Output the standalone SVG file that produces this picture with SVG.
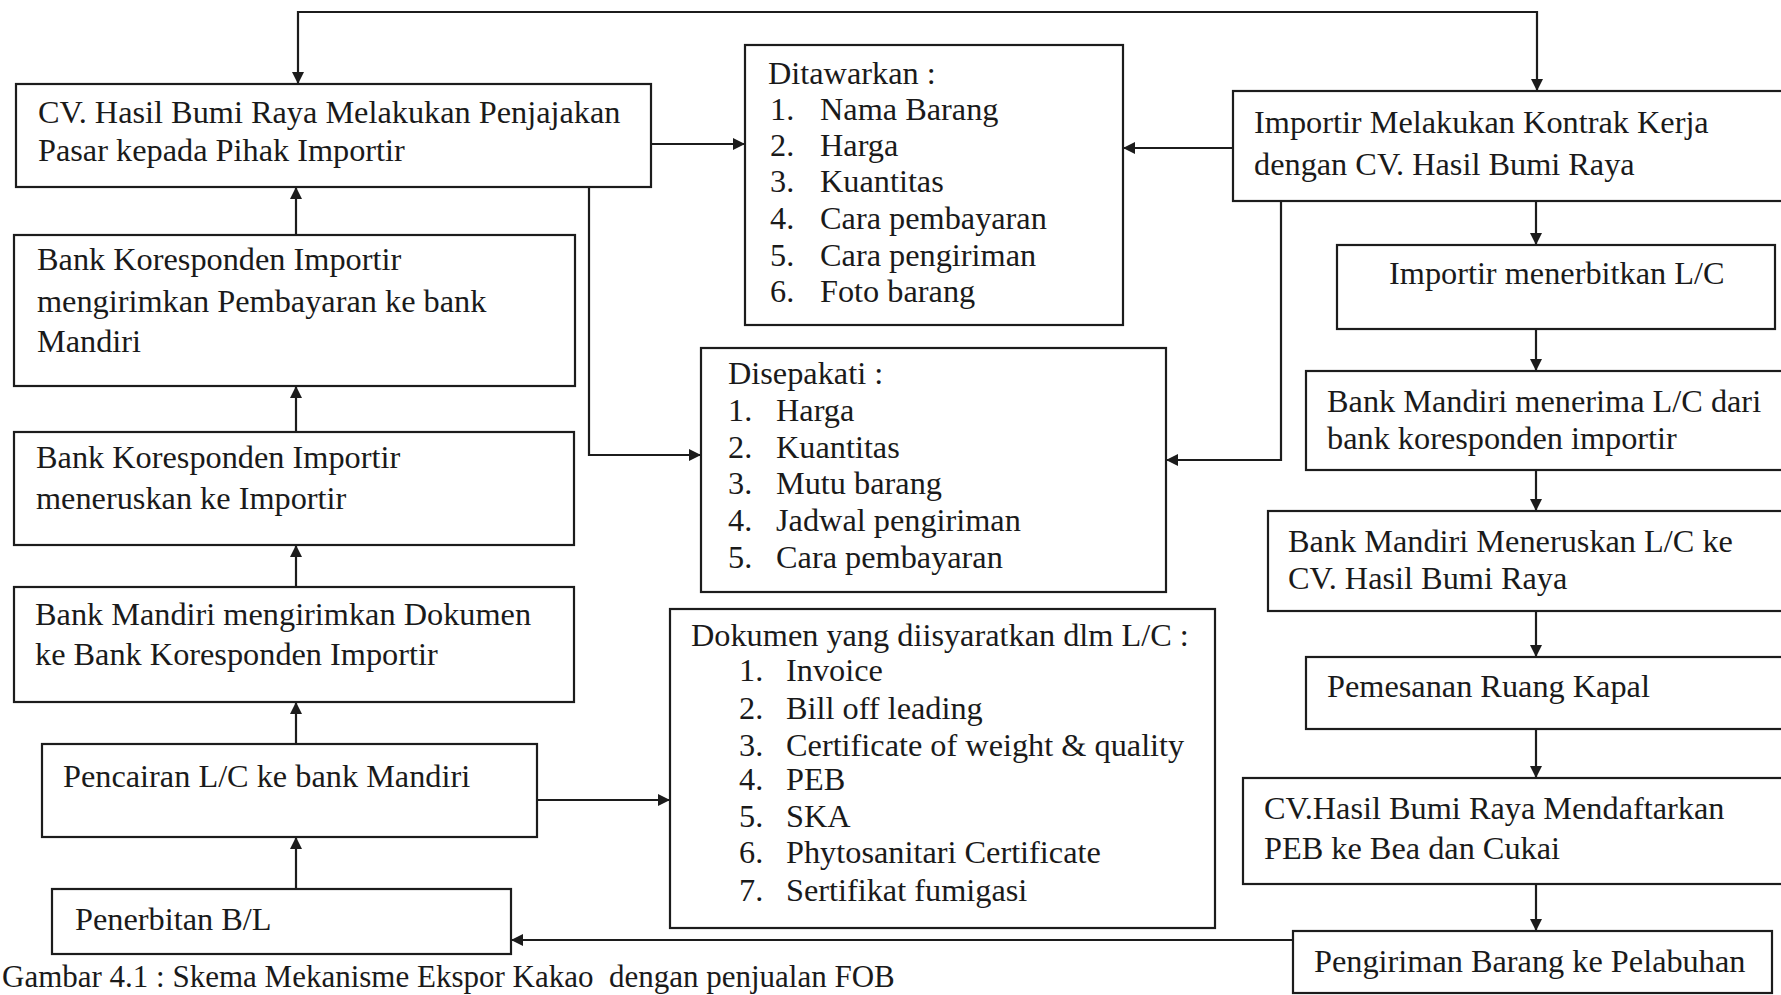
<svg xmlns="http://www.w3.org/2000/svg" width="1781" height="995" viewBox="0 0 1781 995">
<style>
.box{fill:#fff;stroke:#1c1c1c;stroke-width:2.2}
.t{font-family:"Liberation Serif","Times New Roman",serif;font-size:32.3px;fill:#1a1a1a}
.c{fill:none;stroke:#1c1c1c;stroke-width:2.2}
</style>
<defs>
<marker id="ah" viewBox="0 0 12 12" refX="12" refY="6" markerWidth="12" markerHeight="12" markerUnits="userSpaceOnUse" orient="auto-start-reverse">
<path d="M0,0 L12,6 L0,12 Z" fill="#1c1c1c"/>
</marker>
</defs>
<rect width="1781" height="995" fill="#fff"/>

<g id="connectors">
<path class="c" d="M298,84 V12 H1537 V91" marker-start="url(#ah)" marker-end="url(#ah)"/>
<path class="c" d="M651,144 H745" marker-end="url(#ah)"/>
<path class="c" d="M1233,148 H1123" marker-end="url(#ah)"/>
<path class="c" d="M589,187 V455 H701" marker-end="url(#ah)"/>
<path class="c" d="M1281,201 V460 H1166" marker-end="url(#ah)"/>
<path class="c" d="M537,800 H670" marker-end="url(#ah)"/>
<path class="c" d="M1293,940 H511" marker-end="url(#ah)"/>
<path class="c" d="M296,235 V187" marker-end="url(#ah)"/>
<path class="c" d="M296,432 V386" marker-end="url(#ah)"/>
<path class="c" d="M296,587 V545" marker-end="url(#ah)"/>
<path class="c" d="M296,744 V702" marker-end="url(#ah)"/>
<path class="c" d="M296,889 V837" marker-end="url(#ah)"/>
<path class="c" d="M1536,201 V245" marker-end="url(#ah)"/>
<path class="c" d="M1536,329 V371" marker-end="url(#ah)"/>
<path class="c" d="M1536,470 V511" marker-end="url(#ah)"/>
<path class="c" d="M1536,611 V657" marker-end="url(#ah)"/>
<path class="c" d="M1536,729 V778" marker-end="url(#ah)"/>
<path class="c" d="M1536,884 V931" marker-end="url(#ah)"/>
</g>

<g id="nodeA">
<rect class="box" x="16" y="84" width="635" height="103"/>
<text class="t" x="38" y="123">CV. Hasil Bumi Raya Melakukan Penjajakan</text>
<text class="t" x="38" y="161">Pasar kepada Pihak Importir</text>
</g>
<g id="nodeB">
<rect class="box" x="14" y="235" width="561" height="151"/>
<text class="t" x="37" y="270">Bank Koresponden Importir</text>
<text class="t" x="37" y="312">mengirimkan Pembayaran ke bank</text>
<text class="t" x="37" y="352">Mandiri</text>
</g>
<g id="nodeC">
<rect class="box" x="14" y="432" width="560" height="113"/>
<text class="t" x="36" y="468">Bank Koresponden Importir</text>
<text class="t" x="36" y="509">meneruskan ke Importir</text>
</g>
<g id="nodeD">
<rect class="box" x="14" y="587" width="560" height="115"/>
<text class="t" x="35" y="625">Bank Mandiri mengirimkan Dokumen</text>
<text class="t" x="35" y="665">ke Bank Koresponden Importir</text>
</g>
<g id="nodeE">
<rect class="box" x="42" y="744" width="495" height="93"/>
<text class="t" x="63" y="787">Pencairan L/C ke bank Mandiri</text>
</g>
<g id="nodeF">
<rect class="box" x="52" y="889" width="459" height="65"/>
<text class="t" x="75" y="930">Penerbitan B/L</text>
</g>

<g id="nodeH">
<rect class="box" x="745" y="45" width="378" height="280"/>
<text class="t" x="768" y="84">Ditawarkan :</text>
<text class="t" x="770" y="120">1.</text><text class="t" x="820" y="120">Nama Barang</text>
<text class="t" x="770" y="156">2.</text><text class="t" x="820" y="156">Harga</text>
<text class="t" x="770" y="192">3.</text><text class="t" x="820" y="192">Kuantitas</text>
<text class="t" x="770" y="229">4.</text><text class="t" x="820" y="229">Cara pembayaran</text>
<text class="t" x="770" y="266">5.</text><text class="t" x="820" y="266">Cara pengiriman</text>
<text class="t" x="770" y="302">6.</text><text class="t" x="820" y="302">Foto barang</text>
</g>
<g id="nodeI">
<rect class="box" x="701" y="348" width="465" height="244"/>
<text class="t" x="728" y="384">Disepakati :</text>
<text class="t" x="728" y="421">1.</text><text class="t" x="776" y="421">Harga</text>
<text class="t" x="728" y="458">2.</text><text class="t" x="776" y="458">Kuantitas</text>
<text class="t" x="728" y="494">3.</text><text class="t" x="776" y="494">Mutu barang</text>
<text class="t" x="728" y="531">4.</text><text class="t" x="776" y="531">Jadwal pengiriman</text>
<text class="t" x="728" y="568">5.</text><text class="t" x="776" y="568">Cara pembayaran</text>
</g>
<g id="nodeJ">
<rect class="box" x="670" y="609" width="545" height="319"/>
<text class="t" x="691" y="646">Dokumen yang diisyaratkan dlm L/C :</text>
<text class="t" x="739" y="681">1.</text><text class="t" x="786" y="681">Invoice</text>
<text class="t" x="739" y="719">2.</text><text class="t" x="786" y="719">Bill off leading</text>
<text class="t" x="739" y="756">3.</text><text class="t" x="786" y="756">Certificate of weight &amp; quality</text>
<text class="t" x="739" y="790">4.</text><text class="t" x="786" y="790">PEB</text>
<text class="t" x="739" y="827">5.</text><text class="t" x="786" y="827">SKA</text>
<text class="t" x="739" y="863">6.</text><text class="t" x="786" y="863">Phytosanitari Certificate</text>
<text class="t" x="739" y="901">7.</text><text class="t" x="786" y="901">Sertifikat fumigasi</text>
</g>

<g id="nodeG">
<rect class="box" x="1233" y="91" width="560" height="110"/>
<text class="t" x="1254" y="133">Importir Melakukan Kontrak Kerja</text>
<text class="t" x="1254" y="175">dengan CV. Hasil Bumi Raya</text>
</g>
<g id="nodeK">
<rect class="box" x="1337" y="245" width="438" height="84"/>
<text class="t" x="1389" y="284">Importir menerbitkan L/C</text>
</g>
<g id="nodeL">
<rect class="box" x="1306" y="371" width="490" height="99"/>
<text class="t" x="1327" y="412">Bank Mandiri menerima L/C dari</text>
<text class="t" x="1327" y="449">bank koresponden importir</text>
</g>
<g id="nodeM">
<rect class="box" x="1268" y="511" width="530" height="100"/>
<text class="t" x="1288" y="552">Bank Mandiri Meneruskan L/C ke</text>
<text class="t" x="1288" y="589">CV. Hasil Bumi Raya</text>
</g>
<g id="nodeN">
<rect class="box" x="1306" y="657" width="490" height="72"/>
<text class="t" x="1327" y="697">Pemesanan Ruang Kapal</text>
</g>
<g id="nodeO">
<rect class="box" x="1243" y="778" width="550" height="106"/>
<text class="t" x="1264" y="819">CV.Hasil Bumi Raya Mendaftarkan</text>
<text class="t" x="1264" y="859">PEB ke Bea dan Cukai</text>
</g>
<g id="nodeP">
<rect class="box" x="1293" y="931" width="479" height="62"/>
<text class="t" x="1314" y="972">Pengiriman Barang ke Pelabuhan</text>
</g>

<text id="caption" class="t" x="2" y="987" style="font-size:31px;white-space:pre">Gambar 4.1 : Skema Mekanisme Ekspor Kakao  dengan penjualan FOB</text>
</svg>
